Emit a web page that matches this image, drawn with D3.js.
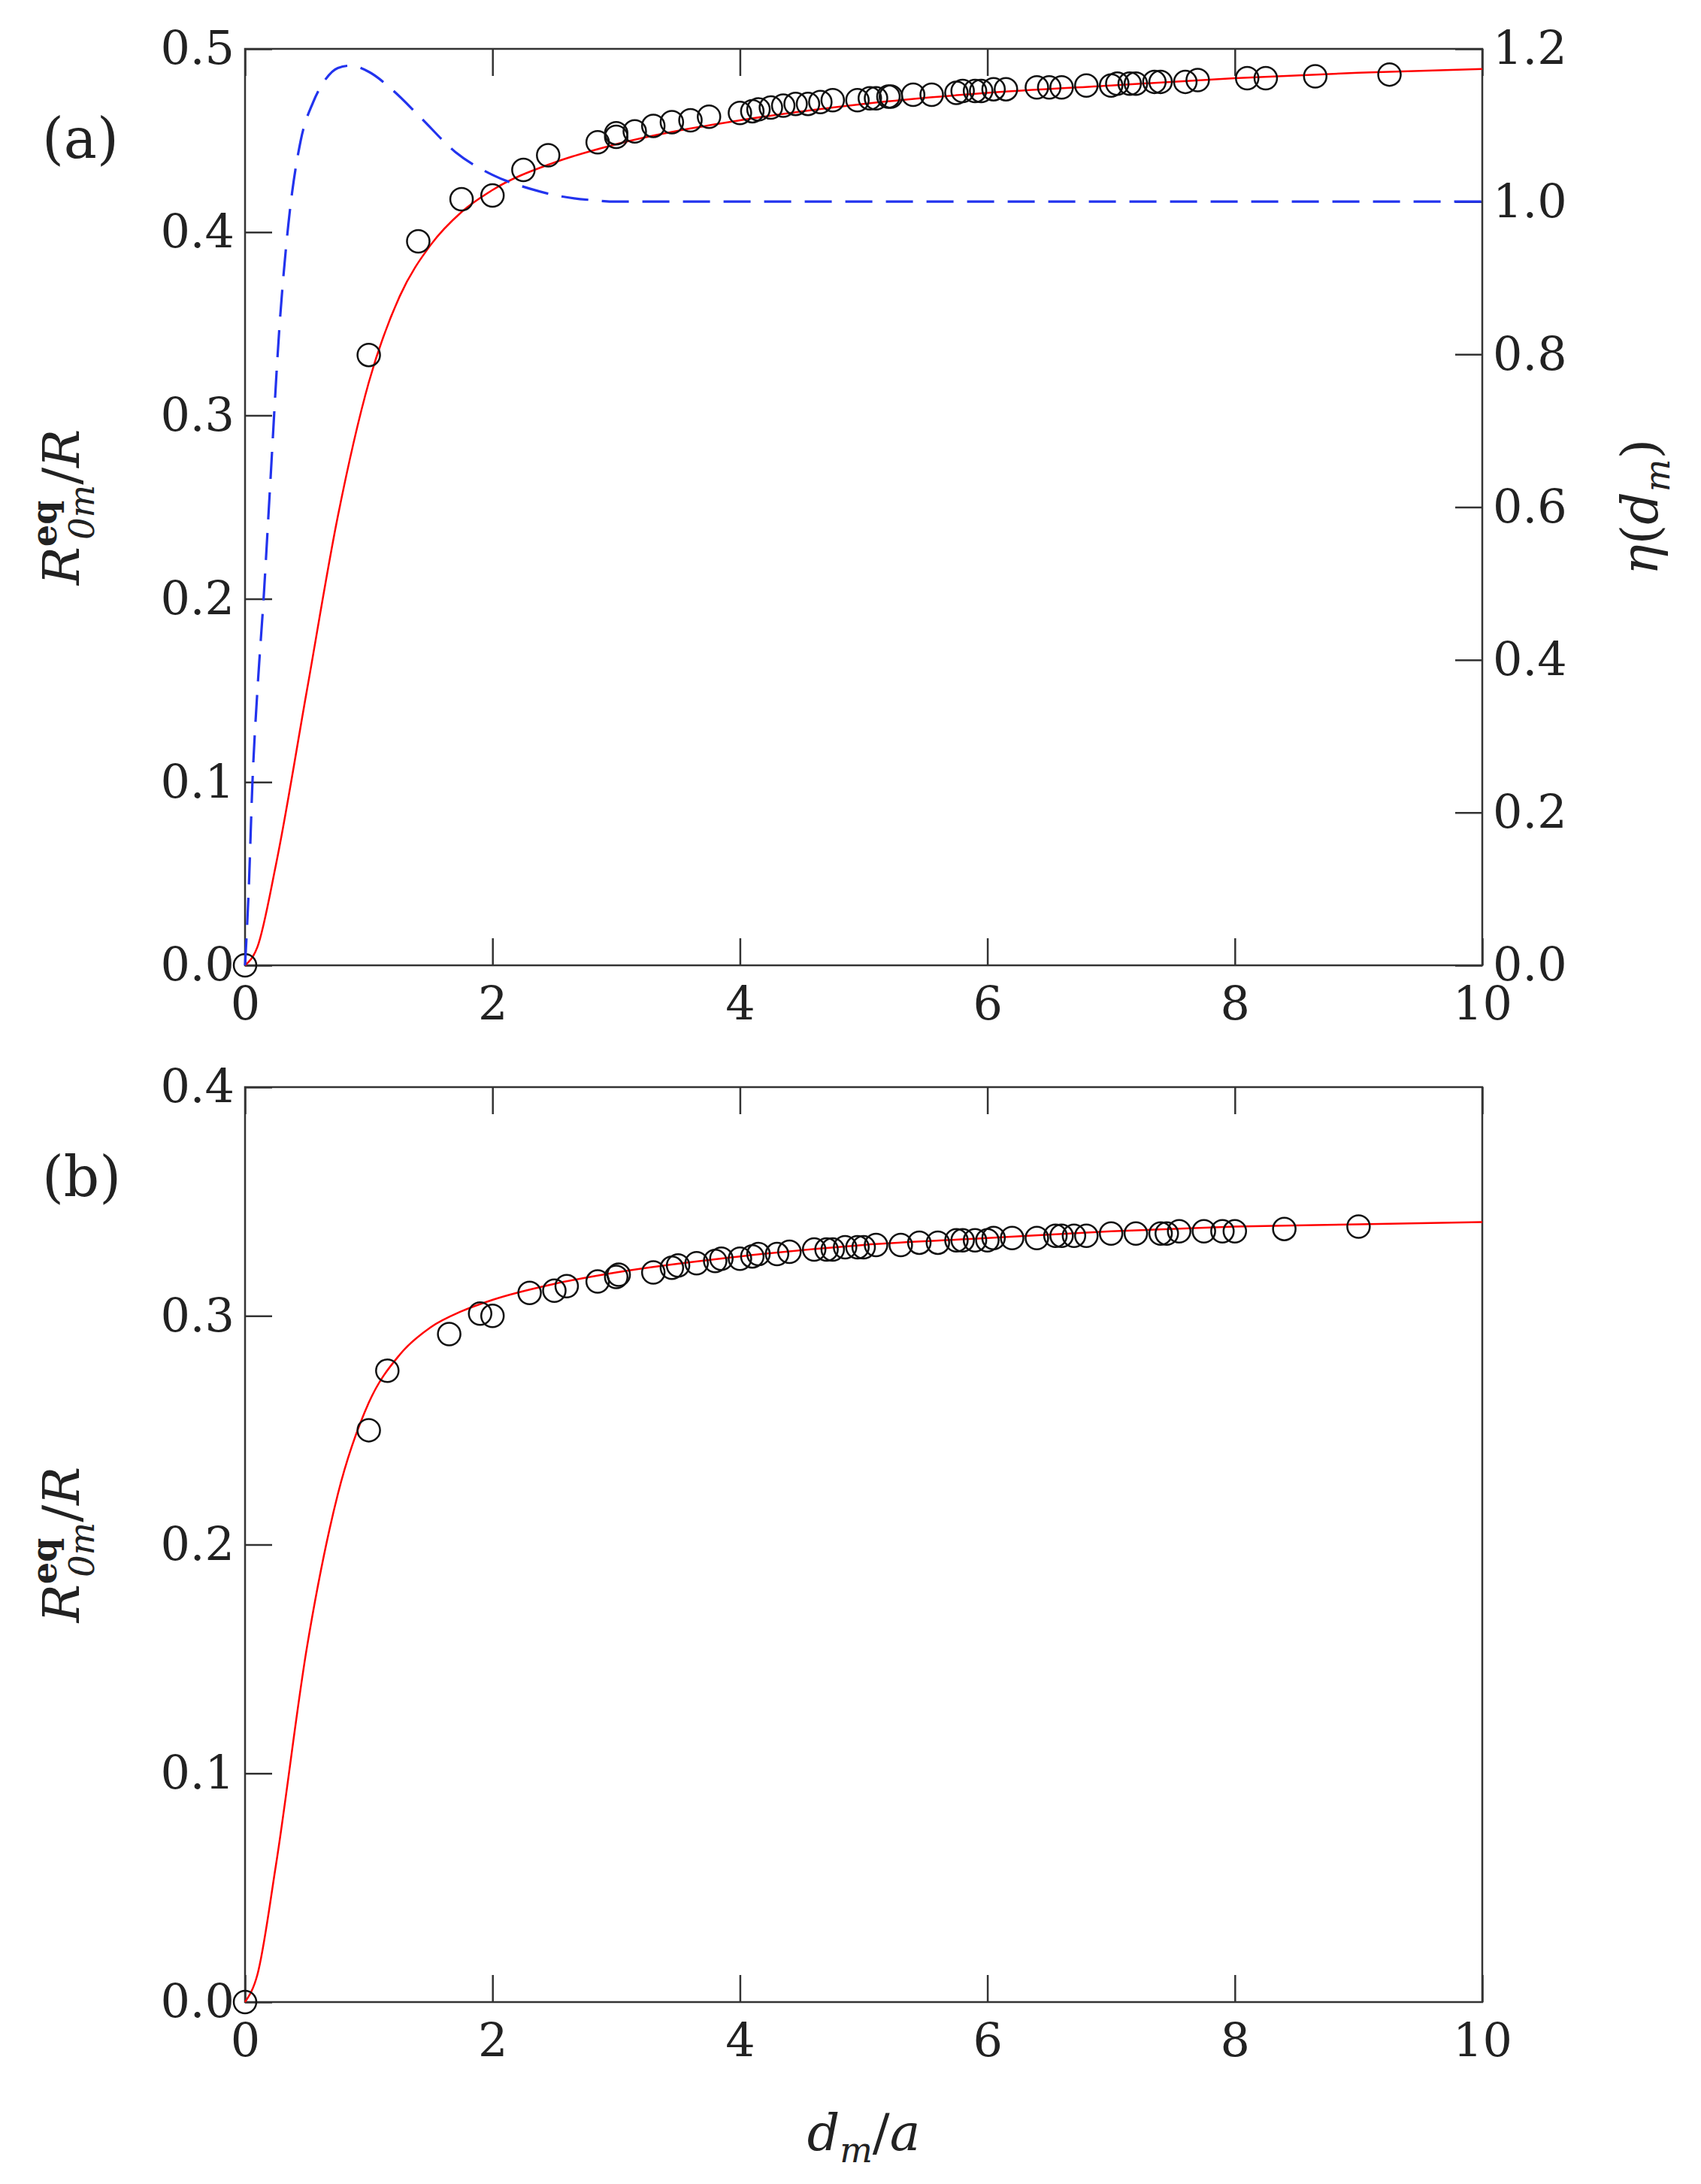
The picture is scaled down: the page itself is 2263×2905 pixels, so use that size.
<!DOCTYPE html><html><head><meta charset="utf-8">
<script src="https://cdn.jsdelivr.net/npm/d3@7"></script>
<style>body{margin:0;background:#fff}text{font-family:"DejaVu Serif",serif;fill:#222}</style></head><body>
<svg id="c" width="2263" height="2905"></svg>
<script>
const xTicks=[0,2,4,6,8,10];
const yTicksA=[0,0.1,0.2,0.3,0.4,0.5];
const etaTicks=[0,0.2,0.4,0.6,0.8,1.0,1.2];
const yTicksB=[0,0.1,0.2,0.3,0.4];
const ptsAx=[0,1.0,1.4,1.75,2.0,2.25,2.45,2.85,3.0,3.0,3.15,3.3,3.45,3.6,3.75,4.0,4.1,4.15,4.25,4.35,4.45,4.55,4.65,4.75,4.95,5.05,5.1,5.2,5.22,5.4,5.55,5.75,5.8,5.9,5.95,6.05,6.15,6.4,6.5,6.6,6.8,7.0,7.05,7.15,7.2,7.35,7.4,7.6,7.7,8.1,8.25,8.65,9.25];
const ptsAy=[0,0.333,0.395,0.418,0.420,0.434,0.442,0.449,0.452,0.454,0.455,0.458,0.460,0.461,0.463,0.465,0.466,0.467,0.468,0.469,0.470,0.470,0.471,0.472,0.472,0.473,0.473,0.474,0.474,0.475,0.475,0.476,0.477,0.477,0.477,0.478,0.478,0.479,0.479,0.479,0.480,0.480,0.481,0.481,0.481,0.482,0.482,0.482,0.483,0.484,0.484,0.485,0.486];
const fitAx=[0,0.1,0.25,0.5,0.75,1.0,1.25,1.5,1.75,2.0,2.5,3,4,5,6,7,8,9,10];
const fitAy=[0,0.01,0.055,0.15,0.245,0.318,0.365,0.393,0.411,0.423,0.438,0.448,0.461,0.470,0.476,0.480,0.484,0.487,0.489];
const etaX=[0,0.03,0.06,0.1,0.15,0.2,0.28,0.35,0.45,0.55,0.65,0.75,0.85,1.0,1.2,1.42,1.7,2.0,2.3,2.55,2.8,3.0,4,6,8,10];
const etaY=[0,0.1,0.24,0.36,0.48,0.62,0.84,0.97,1.08,1.13,1.16,1.175,1.178,1.17,1.145,1.11,1.065,1.035,1.017,1.007,1.002,1.0,1.0,1.0,1.0,1.0];
const ptsBx=[0,1.0,1.15,1.65,1.9,2.0,2.3,2.5,2.6,2.85,3.0,3.02,3.3,3.45,3.5,3.65,3.8,3.85,4.0,4.1,4.15,4.3,4.4,4.6,4.7,4.75,4.85,4.95,5.0,5.1,5.3,5.45,5.6,5.75,5.8,5.9,6.0,6.05,6.2,6.4,6.55,6.6,6.7,6.8,7.0,7.2,7.4,7.45,7.55,7.75,7.9,8.0,8.4,9.0];
const ptsBy=[0,0.250,0.276,0.292,0.301,0.300,0.310,0.311,0.313,0.315,0.317,0.318,0.319,0.321,0.322,0.323,0.324,0.325,0.325,0.326,0.327,0.327,0.328,0.329,0.329,0.329,0.330,0.330,0.330,0.331,0.331,0.332,0.332,0.333,0.333,0.333,0.333,0.334,0.334,0.334,0.335,0.335,0.335,0.335,0.336,0.336,0.336,0.336,0.337,0.337,0.337,0.337,0.338,0.339];
const fitBx=[0,0.1,0.25,0.5,0.75,1.0,1.25,1.5,1.75,2.0,2.5,3,4,5,6,7,8,9,10];
const fitBy=[0,0.012,0.06,0.155,0.222,0.262,0.283,0.295,0.302,0.307,0.314,0.319,0.326,0.331,0.334,0.337,0.339,0.340,0.341];

const svg=d3.select("#c");
const L=326,R=1972,FS=62;
function panel(top,bot,yMax,yTicks,px,py,fx,fy,label){
  const x=d3.scaleLinear().domain([0,10]).range([L,R]);
  const y=d3.scaleLinear().domain([0,yMax]).range([bot,top]);
  const g=svg.append("g");
  const tk=36;
  g.append("g").attr("transform",`translate(0,${bot})`).call(d3.axisBottom(x).tickValues(xTicks).tickSizeInner(-tk).tickSizeOuter(0).tickPadding(28).tickFormat(d3.format("d")));
  g.append("g").attr("transform",`translate(0,${top})`).call(d3.axisTop(x).tickValues(xTicks).tickSizeInner(-tk).tickSizeOuter(0).tickFormat(""));
  g.append("g").attr("transform",`translate(${L},0)`).call(d3.axisLeft(y).tickValues(yTicks).tickSizeInner(-tk).tickSizeOuter(0).tickPadding(14).tickFormat(d3.format(".1f")));
  g.selectAll(".tick text").attr("font-size",FS).attr("font-family","DejaVu Serif").attr("fill","#222");
  g.selectAll(".domain").remove();
  g.selectAll(".tick line").attr("stroke","#333").attr("stroke-width",2.5);
  g.append("rect").attr("x",L).attr("y",top).attr("width",R-L).attr("height",bot-top).attr("fill","none").attr("stroke","#333").attr("stroke-width",2.5);
  const ln=d3.line().curve(d3.curveMonotoneX).x(d=>x(d[0])).y(d=>y(d[1]));
  g.append("path").attr("d",ln(d3.zip(fx,fy))).attr("fill","none").attr("stroke","#f00").attr("stroke-width",2.5);
  g.selectAll("circle.p").data(d3.zip(px,py)).join("circle").attr("cx",d=>x(d[0])).attr("cy",d=>y(d[1])).attr("r",15).attr("fill","none").attr("stroke","#111").attr("stroke-width",2.5);
  svg.append("text").attr("x",56).attr("y",top+145).attr("font-family","DejaVu Sans").attr("font-size",74).text(label);
  const t=svg.append("text").attr("transform",`translate(105,${(top+bot)/2}) rotate(-90)`).attr("text-anchor","middle").attr("font-size",68);
  t.append("tspan").attr("font-style","italic").text("R");
  t.append("tspan").attr("font-size",46).attr("dy",-30).attr("font-weight","bold").text("eq");
  t.append("tspan").attr("font-size",46).attr("font-style","italic").attr("dx",-52).attr("dy",50).text("0m");
  t.append("tspan").attr("dy",-20).text("/");
  t.append("tspan").attr("font-style","italic").text("R");
  return {x,y,g};
}
const a=panel(65,1284,0.5,yTicksA,ptsAx,ptsAy,fitAx,fitAy,"(a)");
const yEta=d3.scaleLinear().domain([0,1.2]).range([1284,65]);
a.g.append("g").attr("transform",`translate(${R},0)`).call(d3.axisRight(yEta).tickValues(etaTicks).tickSizeInner(-36).tickSizeOuter(0).tickPadding(14).tickFormat(d3.format(".1f")))
 .call(s=>{s.select(".domain").remove();s.selectAll("line").attr("stroke","#333").attr("stroke-width",2.5);s.selectAll("text").attr("font-size",FS).attr("font-family","DejaVu Serif").attr("fill","#222");});
a.g.append("path").attr("d",d3.line().curve(d3.curveMonotoneX).x(d=>a.x(d[0])).y(d=>yEta(d[1]))(d3.zip(etaX,etaY)))
 .attr("fill","none").attr("stroke","#2233ee").attr("stroke-width",3.2).attr("stroke-dasharray","36,18");
const et=svg.append("text").attr("transform",`translate(2205,${(65+1284)/2}) rotate(-90)`).attr("text-anchor","middle").attr("font-size",68);
et.append("tspan").attr("font-style","italic").text("η");
et.append("tspan").text("(");
et.append("tspan").attr("font-style","italic").text("d");
et.append("tspan").attr("font-style","italic").attr("font-size",46).attr("dy",16).text("m");
et.append("tspan").attr("dy",-16).text(")");
panel(1446,2663,0.4,yTicksB,ptsBx,ptsBy,fitBx,fitBy,"(b)");
const xt=svg.append("text").attr("x",(L+R)/2).attr("y",2860).attr("text-anchor","middle").attr("font-size",68);
xt.append("tspan").attr("font-style","italic").text("d");
xt.append("tspan").attr("font-style","italic").attr("font-size",46).attr("dy",16).text("m");
xt.append("tspan").attr("dy",-16).text("/");
xt.append("tspan").attr("font-style","italic").text("a");
</script></body></html>
